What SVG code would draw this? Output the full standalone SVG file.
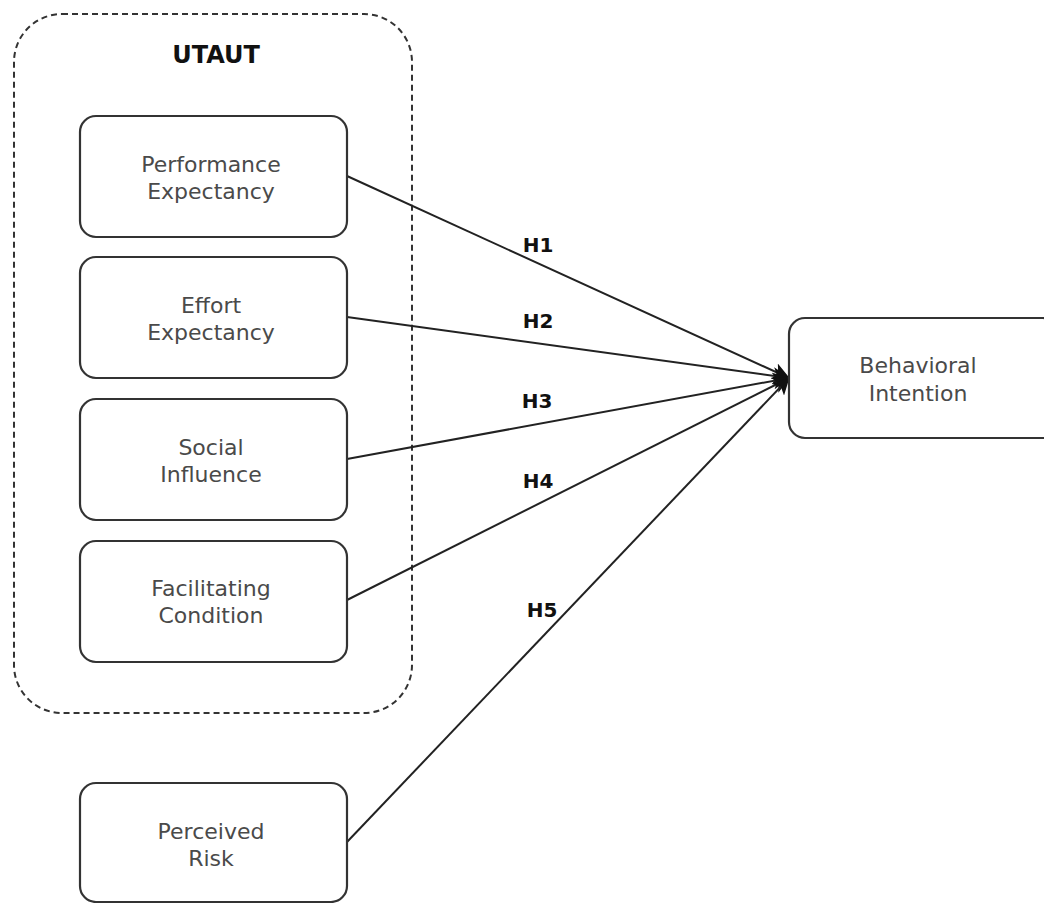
<svg xmlns="http://www.w3.org/2000/svg" width="1044" height="903" viewBox="0 0 1044 903">
<style>
.box{fill:#fff;stroke:#333;stroke-width:2.2}
.t{font-family:"DejaVu Sans","Liberation Sans",sans-serif;font-size:22px;fill:#4a4a4a;text-anchor:middle}
.h{font-family:"DejaVu Sans","Liberation Sans",sans-serif;font-size:20px;font-weight:bold;fill:#111;text-anchor:middle}
.c{stroke:#222;stroke-width:2;fill:none;marker-end:url(#arr)}
</style>
<defs>
<marker id="arr" viewBox="0 0 10 10" refX="9.5" refY="5" markerWidth="17" markerHeight="17" markerUnits="userSpaceOnUse" orient="auto">
<path d="M0,0 L10,5 L0,10 L2.5,5 z" fill="#111"/>
</marker>
</defs>
<rect width="1044" height="903" fill="#fff"/>
<g id="utaut">
<rect x="14" y="14" width="398" height="699" rx="48" fill="none" stroke="#333" stroke-width="2" stroke-dasharray="6 4"/>
<text class="h" x="216" y="63" style="font-size:24px">UTAUT</text>
</g>
<g id="connectors">
<line class="c" x1="347" y1="176" x2="789" y2="378"/>
<line class="c" x1="347" y1="317" x2="789" y2="378"/>
<line class="c" x1="347" y1="459" x2="789" y2="378"/>
<line class="c" x1="347" y1="600" x2="789" y2="378"/>
<line class="c" x1="347" y1="842" x2="789" y2="378"/>
<text class="h" x="538" y="252">H1</text>
<text class="h" x="538" y="328">H2</text>
<text class="h" x="537" y="408">H3</text>
<text class="h" x="538" y="488">H4</text>
<text class="h" x="542" y="617">H5</text>
</g>
<g id="pe">
<rect class="box" x="80" y="116" width="267" height="121" rx="16"/>
<text class="t" x="211" y="172">Performance</text>
<text class="t" x="211" y="199">Expectancy</text>
</g>
<g id="ee">
<rect class="box" x="80" y="257" width="267" height="121" rx="16"/>
<text class="t" x="211" y="313">Effort</text>
<text class="t" x="211" y="340">Expectancy</text>
</g>
<g id="si">
<rect class="box" x="80" y="399" width="267" height="121" rx="16"/>
<text class="t" x="211" y="455">Social</text>
<text class="t" x="211" y="482">Influence</text>
</g>
<g id="fc">
<rect class="box" x="80" y="541" width="267" height="121" rx="16"/>
<text class="t" x="211" y="596">Facilitating</text>
<text class="t" x="211" y="623">Condition</text>
</g>
<g id="pr">
<rect class="box" x="80" y="783" width="267" height="119" rx="16"/>
<text class="t" x="211" y="839">Perceived</text>
<text class="t" x="211" y="866">Risk</text>
</g>
<g id="bi">
<rect class="box" x="789" y="318" width="270" height="120" rx="16"/>
<text class="t" x="918" y="373">Behavioral</text>
<text class="t" x="918" y="401">Intention</text>
</g>
</svg>
